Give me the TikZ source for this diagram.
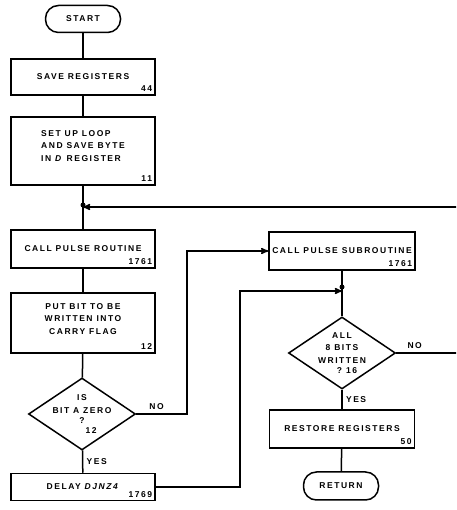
\documentclass[tikz,border=0pt]{standalone}
\usepackage{fontspec}
\setmainfont{Liberation Sans}[LetterSpace=18]
\usepackage{tikz}
\usetikzlibrary{arrows,shapes,positioning}

\begin{document}
\begin{tikzpicture}[x=1pt, y=1pt, >=stealth', line width=1.5pt,
	font=\fontsize{8.5}{12.5}\selectfont\bfseries]

	\tikzstyle{block}=[draw, rectangle, minimum width=144pt, inner sep=2pt]
	\tikzstyle{term}=[draw, rectangle, rounded corners=13pt, minimum width=75pt, minimum height=27pt]
	\tikzstyle{decision}=[draw, diamond, minimum width=107pt, minimum height=72pt, inner sep=0pt]
	\tikzstyle{num}=[anchor=south east, inner sep=3pt]
	\tikzstyle{dot}=[circle, fill, inner sep=0pt, minimum size=5pt]

	\useasboundingbox (0,0) rectangle (456,510);
	\clip (0,0) rectangle (456,510);

	% left column
	\node[term] (start) at (83,491) {START};
	\node[block, minimum height=36pt, label={[num, name=n44]south east:44}] (save) at (83,433) {SAVE REGISTERS};
	\node[block, minimum height=68pt, align=left, label={[num, name=n11]south east:11}] (setup) at (83,359)
		{SET UP LOOP\\AND SAVE BYTE\\IN \textit{D} REGISTER\\[-2pt]};
	\coordinate (j1) at (83,303);
	\node[dot] (d1) at (83,305) {};
	\node[block, minimum height=38pt, label={[num, name=n761]south east:1761}] (call) at (83,261) {CALL PULSE ROUTINE\\[-2pt]};
	\node[block, minimum height=60pt, align=center, label={[num, name=n12a]south east:12}] (put) at (83,187)
		{PUT BIT TO BE\\WRITTEN INTO\\CARRY FLAG\\[-4pt]};
	\node[decision, label={[align=center]center:IS\\BIT A ZERO\\[-2pt]?\\[-3pt]\hspace*{18pt}12}] (zero) at (82,96) {};
	\node[block, minimum height=27pt, label={[num, name=n769]south east:1769}] (delay) at (83,23) {DELAY \textit{DJNZ4}\\[-2pt]};

	% right column
	\node[block, minimum width=146pt, minimum height=38pt, label={[num, name=n761b]south east:1761}] (sub) at (342,259) {CALL PULSE SUBROUTINE\\[-2pt]};
	\coordinate (j2) at (342,219);
	\node[dot] (d2) at (342,223) {};
	\node[decision, label={[align=center]center:ALL\\8 BITS\\WRITTEN\\[-2pt]\hspace*{10pt}?\hspace*{4pt}16}] (bits) at (342,157) {};
	\node[block, minimum width=145pt, minimum height=38pt, label={[num, name=n50]south east:50}] (restore) at (342,81) {RESTORE REGISTERS\\[-2pt]};
	\node[term, minimum height=28pt] (ret) at (341,24) {RETURN};

	% straight runs
	\draw (start) -- (save);
	\draw (save) -- (setup);
	\draw (setup) -- (call);
	\draw (call) -- (put);
	\draw (put) -- (zero);
	\draw (zero) -- node[right, name=yes1] {YES} (delay);
	\draw (sub) -- (bits);
	\draw (bits) -- node[right, name=yes2] {YES} (restore);
	\draw (restore) -- (ret);

	% NO from bit test
	\draw[->] (zero.east) -- node[above, name=no1, pos=0.4] {NO} (187,96) |- (sub.west);

	% after delay
	\draw[->] (delay.east) -- (240,23) |- (j2);

	% loop back
	\draw[->] (bits.east) -- node[above, name=no2, pos=0.25] {NO} (470,157) |- (j1);

\end{tikzpicture}
\end{document}
